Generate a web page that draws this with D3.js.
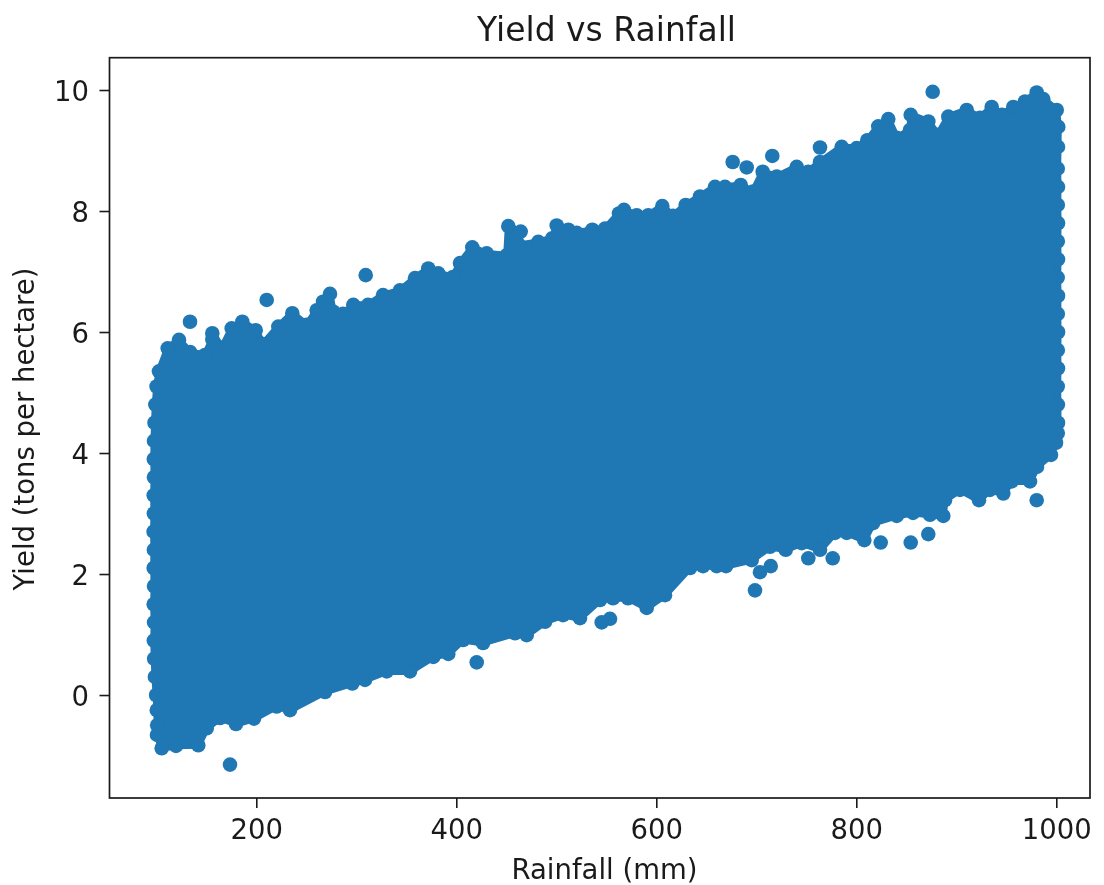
<!DOCTYPE html>
<html><head><meta charset="utf-8">
<script src="https://cdn.jsdelivr.net/npm/d3@7/dist/d3.min.js"></script>
<style>
html,body{margin:0;padding:0;background:#fff}
svg{display:block;filter:blur(0.55px)}
text{font-family:"DejaVu Sans",sans-serif;fill:#1a1a1a}
</style></head><body><svg id="c" width="1104" height="885"></svg>
<script>
const title = "Yield vs Rainfall";
const xLabel = "Rainfall (mm)";
const yLabel = "Yield (tons per hectare)";
const xTicks = [200,400,600,800,1000];
const yTicks = [0,2,4,6,8,10];
// outermost points of the cloud, walked clockwise from the lower left corner
const edgeRain = [100.7,100.9,100.5,99.8,98.6,97.9,97.5,97.8,97.4,97.7,97.4,97.6,97.3,97.6,97.4,97.7,97.5,97.7,98.2,99,100.3,102.7,111.4,122.7,133.7,148.7,156,156,165.7,175.4,186,199.4,206.7,222,236,250.4,260.4,266.7,273.7,276.7,286.7,297,311.7,326.7,343.7,358.7,372,382,396.7,403.7,416,430.4,450.4,452,464.4,462.7,482,496,500.4,512,520.4,536,548.7,562.7,567.7,580.4,592,606,616.7,629.4,643.7,658.7,668.7,684.4,696.7,706.4,720.4,740.4,752,763.7,785.4,800.4,811,822,832,840.4,853.7,854.4,872,881.7,892,910.4,923.7,935.4,945.7,957,968.7,980.4,987,1000.4,1002,1001.7,1001.4,1001.7,1001.5,1001.8,1001.5,1001.7,1001.4,1001.7,1001.5,1001.8,1001.5,1001.7,1001.4,1001.6,1001.7,1001.5,999.7,994.7,980.7,973.7,955.4,947,933.7,922.7,903.7,888.7,887,873.7,856.7,840.4,816.7,808,790.4,778.7,763.7,745.4,729.4,713.7,695.4,669.7,660.4,646.7,633.7,608.7,590.4,571.7,556.7,543.7,523.7,506.7,488.7,470.4,458.7,426.7,406.7,392,377,353.7,330.4,308.7,296,268.7,233.7,220.4,197.7,179.7,163.7,150.4,142,119.7,105.4];
const edgeYield = [-0.66,-0.5,-0.25,0,0.3,0.6,0.9,1.2,1.5,1.8,2.1,2.4,2.7,3,3.3,3.6,3.9,4.2,4.5,4.8,5.1,5.35,5.73,5.87,5.67,5.62,5.88,5.98,5.74,6.06,6.17,6.03,5.80,6.09,6.31,6.12,6.36,6.50,6.63,6.34,6.30,6.45,6.45,6.61,6.69,6.89,7.05,6.97,6.91,7.14,7.40,7.30,7.27,7.75,7.66,7.44,7.49,7.55,7.76,7.69,7.64,7.69,7.71,7.96,8.02,7.93,7.93,8.08,7.92,8.10,8.24,8.40,8.40,8.43,8.32,8.65,8.57,8.73,8.65,8.81,9.06,9.04,9.17,9.40,9.52,9.21,9.34,9.59,9.48,9.26,9.56,9.67,9.54,9.72,9.59,9.72,9.81,9.96,9.85,9.67,9.39,9.06,8.7,8.4,8.1,7.8,7.5,7.2,6.9,6.6,6.3,6,5.7,5.4,5.1,4.8,4.5,4.33,4.17,3.97,3.77,3.53,3.53,3.33,3.39,3.22,3.39,3.22,2.96,2.98,3.01,2.96,2.84,2.56,2.68,2.68,2.40,2.51,2.40,2.45,2.23,2.13,2.13,2.13,2.10,1.65,1.44,1.60,1.60,1.57,1.27,1.32,1.21,0.99,1.02,0.86,0.91,0.68,0.63,0.39,0.39,0.25,0.19,0.05,-0.25,-0.19,-0.39,-0.48,-0.38,-0.55,-0.83,-0.84,-0.88];
// points standing clear of the cloud
const looseRain = [133.7,210.4,309.4,676.4,690.4,716,763.7,876.4,173.7,420.4,553.7,545.4,698.7,703.7,714.4,752,776.4,824.4,854.4,872,980.4];
const looseYield = [6.17,6.53,6.94,8.81,8.72,8.91,9.05,9.97,-1.15,0.54,1.26,1.20,1.73,2.03,2.13,2.26,2.26,2.52,2.52,2.66,3.22];

const box = {l:109.5,r:1090,t:57.7,b:798};
const blue = "#1f77b4", ink = "#1a1a1a";
const x = d3.scaleLinear().domain([53.2,1033.7]).range([box.l,box.r]);
const y = d3.scaleLinear().domain([-1.702,10.534]).range([box.b,box.t]);
const svg = d3.select("#c");

const line = d3.line().x(d=>x(d[0])).y(d=>y(d[1])).curve(d3.curveLinearClosed);
const edge = edgeRain.map((r,i)=>[r,edgeYield[i]]);
const loose = looseRain.map((r,i)=>[r,looseYield[i]]);
svg.append("path").attr("d",line(edge)).attr("fill",blue)
  .attr("stroke",blue).attr("stroke-width",7).attr("stroke-linejoin","round");
svg.append("g").attr("fill",blue).selectAll("circle").data(edge.concat(loose)).join("circle")
  .attr("cx",d=>x(d[0])).attr("cy",d=>y(d[1])).attr("r",7.3);

const gx = svg.append("g").attr("transform",`translate(0,${box.b})`)
  .call(d3.axisBottom(x).tickValues(xTicks).tickSize(10).tickPadding(11.8).tickFormat(d3.format("d")));
const gy = svg.append("g").attr("transform",`translate(${box.l},0)`)
  .call(d3.axisLeft(y).tickValues(yTicks).tickSize(10).tickPadding(10.5).tickFormat(d3.format("d")));
[gx,gy].forEach(g=>{
  g.select(".domain").remove();
  g.selectAll("line").attr("stroke",ink).attr("stroke-width",1.6);
  g.selectAll("text").attr("font-size",27.5).attr("fill",ink).style("font-family",'"DejaVu Sans"');
});
gy.selectAll("text").attr("dy","0.38em");
svg.append("rect").attr("x",box.l).attr("y",box.t).attr("width",box.r-box.l).attr("height",box.b-box.t)
  .attr("fill","none").attr("stroke",ink).attr("stroke-width",1.7);
svg.append("text").attr("x",606.5).attr("y",41).attr("text-anchor","middle").attr("font-size",33).text(title);
svg.append("text").attr("x",604.5).attr("y",879).attr("text-anchor","middle").attr("font-size",27.5).text(xLabel);
svg.append("text").attr("transform","translate(34,429) rotate(-90)").attr("text-anchor","middle").attr("font-size",27.5).text(yLabel);
</script></body></html>
